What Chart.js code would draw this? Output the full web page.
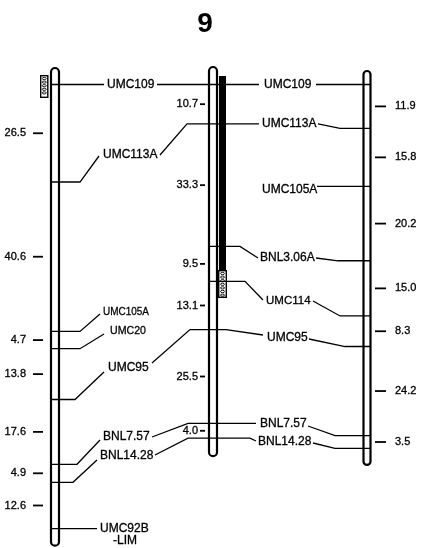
<!DOCTYPE html>
<html><head><meta charset="utf-8">
<script src="https://cdn.jsdelivr.net/npm/chart.js@4/dist/chart.umd.min.js"></script>
<style>html,body{margin:0;padding:0;background:#fff}canvas{display:block}</style>
</head><body>
<canvas id="c" width="422" height="548"></canvas>
<script>
// ---------------- DATA ----------------
const chartTitle = '9';
const leftMarkers  = ['UMC109','UMC113A','UMC105A','UMC20','UMC95','BNL7.57','BNL14.28','UMC92B'];
const leftDistances  = [26.5, 40.6, 4.7, 13.8, 17.6, 4.9, 12.6];
const midMarkers   = ['UMC109','UMC113A','BNL3.06A','UMC114','UMC95','BNL7.57','BNL14.28'];
const midDistances   = [10.7, 33.3, 9.5, 13.1, 25.5, 4.0];
const rightMarkers = ['UMC109','UMC113A','UMC105A','BNL3.06A','UMC114','UMC95','BNL7.57','BNL14.28'];
const rightDistances = [11.9, 15.8, 20.2, 15.0, 8.3, 24.2, 3.5];

// cumulative map positions (cM) from the interval distances
function cumulative(d){ const out=[0]; d.forEach(v=>out.push(out[out.length-1]+v)); return out; }
const leftPos = cumulative(leftDistances);
const midPos = cumulative(midDistances);
const rightPos = cumulative(rightDistances);

// ---------------- LAYOUT ----------------
const W = 422, H = 548, TOP_PX = 84.5, PX_PER_CM = 3.68;
const yMin = -TOP_PX / PX_PER_CM, yMax = (H - TOP_PX) / PX_PER_CM;
const py = p => (p - TOP_PX) / PX_PER_CM;   // layout helper: page row -> map axis value

const maps = {
  L: {markers:leftMarkers,  pos:leftPos,  dist:leftDistances,  cx:55,  w:8, topPad:16.5, botPad:17,   tick:[33,43],  textX:26,  align:'right'},
  M: {markers:midMarkers,   pos:midPos,   dist:midDistances,   cx:213, w:8, topPad:17.5, botPad:18,   tick:[200,205],textX:198, align:'right'},
  R: {markers:rightMarkers, pos:rightPos, dist:rightDistances, cx:367, w:7, topPad:13.5, botPad:16.5, tick:[375,386],textX:395, align:'left'}
};
const m = (k, name) => maps[k].pos[maps[k].markers.indexOf(name)];

const connectors = [
  // UMC109
  [[51,m('L','UMC109')],[104,m('L','UMC109')]],
  [[157,m('L','UMC109')],[209,m('M','UMC109')],[259,m('M','UMC109')]],
  [[316,m('R','UMC109')],[370,m('R','UMC109')]],
  // UMC113A
  [[51,m('L','UMC113A')],[80,m('L','UMC113A')],[99,py(156)]],
  [[160,py(155)],[187,m('M','UMC113A')],[259,m('M','UMC113A')]],
  [[318,m('M','UMC113A')],[340,m('R','UMC113A')],[370,m('R','UMC113A')]],
  // UMC105A
  [[51,m('L','UMC105A')],[80,m('L','UMC105A')],[100,py(314)]],
  [[317,m('R','UMC105A')],[370,m('R','UMC105A')]],
  // UMC20
  [[51,m('L','UMC20')],[80,m('L','UMC20')],[104,py(334)]],
  // UMC95
  [[51,m('L','UMC95')],[75,m('L','UMC95')],[104,py(372)]],
  [[152,py(363)],[190,m('M','UMC95')],[226,m('M','UMC95')],[263,py(335)]],
  [[309,py(339)],[345,m('R','UMC95')],[370,m('R','UMC95')]],
  // BNL3.06A
  [[209,m('M','BNL3.06A')],[240,m('M','BNL3.06A')],[258,py(258)]],
  [[316,py(258)],[338,m('R','BNL3.06A')],[370,m('R','BNL3.06A')]],
  // UMC114
  [[209,m('M','UMC114')],[245,m('M','UMC114')],[263,py(300)]],
  [[313,py(301)],[340,m('R','UMC114')],[370,m('R','UMC114')]],
  // BNL7.57
  [[51,m('L','BNL7.57')],[77,m('L','BNL7.57')],[100,py(440)]],
  [[152,py(437)],[188,m('M','BNL7.57')],[256,m('M','BNL7.57')]],
  [[308,py(426)],[335,m('R','BNL7.57')],[370,m('R','BNL7.57')]],
  // BNL14.28
  [[51,m('L','BNL14.28')],[73,m('L','BNL14.28')],[97,py(460)]],
  [[155,py(455)],[188,m('M','BNL14.28')],[250,m('M','BNL14.28')],[256,py(441)]],
  [[313,py(443)],[335,m('R','BNL14.28')],[370,m('R','BNL14.28')]],
  // UMC92B-LIM
  [[51,m('L','UMC92B')],[97,m('L','UMC92B')]]
];

// marker text labels: [text, x, y(map axis), fontSize, maxWidth]
const labels = [
  ['UMC109',107,m('L','UMC109'),12],
  ['UMC109',264,m('M','UMC109'),12],
  ['UMC113A',103,py(155),12],
  ['UMC113A',262,m('M','UMC113A'),12],
  ['UMC105A',103,py(312),11.5,46],
  ['UMC105A',262,py(190),12],
  ['UMC20',110,py(331),11.5,36],
  ['UMC95',108,py(368),12],
  ['UMC95',267,py(338),12],
  ['BNL3.06A',260,py(258),12],
  ['UMC114',266,py(301),11.5],
  ['BNL7.57',103,py(437),12],
  ['BNL7.57',260,py(424),12],
  ['BNL14.28',100,py(456),12],
  ['BNL14.28',258,py(442),12],
  ['UMC92B',100,m('L','UMC92B'),12],
  ['-LIM',113,py(541),12]
];

// chromosome decorations: [x0, x1, from, to, kind]
const regions = [
  [40,48.5, py(75), py(98), 'dots'],
  [219,226, py(76), py(270), 'solid'],
  [218,227, py(270), py(298), 'dots']
];

// ---------------- DATASETS ----------------
const datasets = [];
connectors.forEach(pts => datasets.push({
  data: pts.map(([x,y]) => ({x, y})),
  borderColor:'#000', borderWidth:1.3, pointRadius:0, showLine:true, fill:false, tension:0
}));
Object.values(maps).forEach(mp => {
  mp.dist.forEach((d,i) => {
    const mid = (mp.pos[i] + mp.pos[i+1]) / 2;
    datasets.push({data:[{x:mp.tick[0],y:mid},{x:mp.tick[1],y:mid}],
      borderColor:'#000', borderWidth:1.8, pointRadius:0, showLine:true, fill:false});
  });
});

const FONT = '"Liberation Sans", Arial, Helvetica, sans-serif';

const chromPlugin = {
  id:'chrom',
  beforeDatasetsDraw(chart){
    const {ctx, scales:{x, y}} = chart;
    ctx.save();
    Object.values(maps).forEach(mp => {
      const top = y.getPixelForValue(mp.pos[0]) - mp.topPad;
      const bot = y.getPixelForValue(mp.pos[mp.pos.length-1]) + mp.botPad;
      const l = x.getPixelForValue(mp.cx - mp.w/2), r = x.getPixelForValue(mp.cx + mp.w/2);
      const rad = (r-l)/2;
      ctx.beginPath();
      ctx.moveTo(l, top+rad);
      ctx.arc(l+rad, top+rad, rad, Math.PI, 0);
      ctx.lineTo(r, bot-rad);
      ctx.arc(l+rad, bot-rad, rad, 0, Math.PI);
      ctx.closePath();
      ctx.fillStyle = '#fff'; ctx.fill();
      ctx.lineWidth = 2.2; ctx.strokeStyle = '#000'; ctx.stroke();
    });
    regions.forEach(([x0,x1,f,t,kind]) => {
      const l = x.getPixelForValue(x0), r = x.getPixelForValue(x1);
      const tp = y.getPixelForValue(f), bt = y.getPixelForValue(t);
      if (kind === 'solid') { ctx.fillStyle = '#000'; ctx.fillRect(l, tp, r-l, bt-tp); }
      else {
        ctx.fillStyle = '#fff'; ctx.fillRect(l, tp, r-l, bt-tp);
        ctx.lineWidth = 1.4; ctx.strokeStyle = '#000'; ctx.strokeRect(l+0.7, tp+0.7, r-l-1.4, bt-tp-1.4);
        ctx.lineWidth = 0.9;
        const cxm = (l + r) / 2;
        for (let yy = tp + 3.5; yy < bt - 2.5; yy += 3.6) {
          ctx.beginPath(); ctx.ellipse(cxm, yy, 2.0, 1.1, 0, 0, Math.PI*2); ctx.stroke();
        }
      }
    });
    ctx.restore();
  }
};

const textPlugin = {
  id:'texts',
  afterDatasetsDraw(chart){
    const {ctx, scales:{x, y}} = chart;
    ctx.save();
    ctx.fillStyle = '#000';
    ctx.strokeStyle = '#000';
    ctx.lineWidth = 0.3;
    ctx.textBaseline = 'middle';
    ctx.textAlign = 'center';
    ctx.font = 'bold 28px ' + FONT;
    ctx.fillText(chartTitle, x.getPixelForValue(205), 24);
    ctx.textAlign = 'left';
    labels.forEach(([t, lx, ly, fs, mw]) => {
      ctx.font = fs + 'px ' + FONT;
      const px = x.getPixelForValue(lx), pyy = y.getPixelForValue(ly);
      if (mw) { ctx.fillText(t, px, pyy, mw); ctx.strokeText(t, px, pyy, mw); }
      else { ctx.fillText(t, px, pyy); ctx.strokeText(t, px, pyy); }
    });
    ctx.font = '11px ' + FONT;
    Object.values(maps).forEach(mp => {
      ctx.textAlign = mp.align;
      mp.dist.forEach((d,i) => {
        const mid = (mp.pos[i] + mp.pos[i+1]) / 2;
        const tx = x.getPixelForValue(mp.textX), ty = y.getPixelForValue(mid);
        ctx.fillText(d.toFixed(1), tx, ty);
        ctx.strokeText(d.toFixed(1), tx, ty);
      });
    });
    ctx.restore();
  }
};

new Chart(document.getElementById('c').getContext('2d'), {
  type:'scatter',
  data:{datasets},
  options:{
    responsive:false, animation:false, devicePixelRatio:1, events:[],
    layout:{padding:0},
    plugins:{legend:{display:false}, tooltip:{enabled:false}, title:{display:false}},
    scales:{
      x:{type:'linear', min:0, max:W, display:false},
      y:{type:'linear', min:yMin, max:yMax, reverse:true, display:false}
    }
  },
  plugins:[chromPlugin, textPlugin]
});
</script>
</body></html>
